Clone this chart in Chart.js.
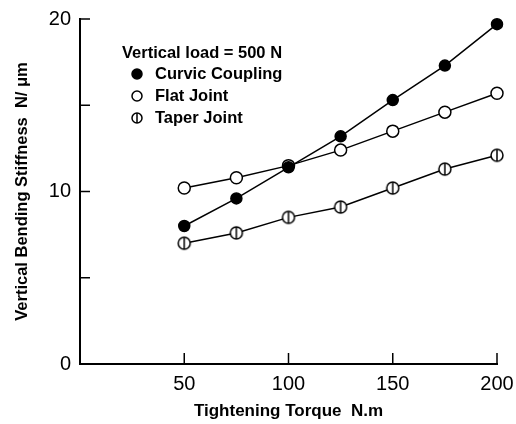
<!DOCTYPE html>
<html>
<head>
<meta charset="utf-8">
<script src="https://cdn.jsdelivr.net/npm/chart.js@4/dist/chart.umd.min.js"></script>
<style>
  html, body { margin: 0; padding: 0; background: #fff; }
  #box { width: 516px; height: 424px; }
</style>
</head>
<body>
<div id="box"><canvas id="grafico"></canvas></div>
<script>
const torque = [50, 75, 100, 125, 150, 175, 200];
const curvic = [8.0, 9.6, 11.4, 13.2, 15.3, 17.3, 19.7];
const flat = [10.2, 10.8, 11.5, 12.4, 13.5, 14.6, 15.7];
const taper = [7.0, 7.6, 8.5, 9.1, 10.2, 11.3, 12.1];
const seriesNames = ["Curvic Coupling", "Flat Joint", "Taper Joint"];
const legendTitle = "Vertical load = 500 N";
const xTicks = [50, 100, 150, 200];
const yTicks = [0, 5, 10, 15, 20];
const yLabels = [0, 10, 20];

const fonte = "'Liberation Sans', Arial, sans-serif";

function pontos(valores) {
  let lista = [];
  for (let i = 0; i < torque.length; i++) {
    lista.push({ x: torque[i], y: valores[i] });
  }
  return lista;
}

// marcador do taper: circulo aberto com traco vertical
function marcadorTaper(r) {
  let c = document.createElement("canvas");
  c.width = r * 2 + 4;
  c.height = r * 2 + 4;
  let g = c.getContext("2d");
  let m = r + 2;
  g.fillStyle = "#fff";
  g.strokeStyle = "#000";
  g.lineWidth = 1.5;
  g.beginPath();
  g.arc(m, m, r, 0, Math.PI * 2);
  g.fill();
  g.stroke();
  g.beginPath();
  g.moveTo(m, m - r);
  g.lineTo(m, m + r);
  g.stroke();
  return c;
}

const taperPonto = marcadorTaper(6);
const taperLegenda = marcadorTaper(5);

const ticksInternos = {
  id: "ticksInternos",
  afterDraw(chart) {
    let ctx = chart.ctx;
    let x = chart.scales.x;
    let y = chart.scales.y;
    ctx.save();
    ctx.strokeStyle = "#000";
    ctx.lineWidth = 1.5;
    for (let v of xTicks) {
      let px = x.getPixelForValue(v);
      ctx.beginPath();
      ctx.moveTo(px, y.bottom);
      ctx.lineTo(px, y.bottom - 11);
      ctx.stroke();
    }
    for (let v of yTicks) {
      if (v === 0) continue;
      let py = y.getPixelForValue(v);
      ctx.beginPath();
      ctx.moveTo(x.left, py);
      ctx.lineTo(x.left + 10, py);
      ctx.stroke();
    }
    ctx.restore();
  },
};

const legendaInterna = {
  id: "legendaInterna",
  afterDraw(chart) {
    let ctx = chart.ctx;
    ctx.save();
    ctx.fillStyle = "#000";
    ctx.font = "bold 16.5px " + fonte;
    ctx.textBaseline = "middle";
    ctx.textAlign = "left";
    ctx.fillText(legendTitle, 122, 53);
    let linhas = [74, 96, 118];
    chart.data.datasets.forEach(function (ds, i) {
      let cy = linhas[i];
      let cx = 137;
      if (ds.pointStyle === taperPonto) {
        ctx.drawImage(taperLegenda, cx - 7, cy - 7);
      } else {
        ctx.beginPath();
        ctx.arc(cx, cy, 5, 0, Math.PI * 2);
        ctx.fillStyle = ds.pointBackgroundColor;
        ctx.fill();
        ctx.strokeStyle = "#000";
        ctx.lineWidth = 1.5;
        ctx.stroke();
      }
      ctx.fillStyle = "#000";
      ctx.fillText(ds.label, 155, cy);
    });
    ctx.restore();
  },
};

new Chart(document.getElementById("grafico"), {
  type: "scatter",
  data: {
    datasets: [
      {
        label: seriesNames[0],
        data: pontos(curvic),
        showLine: true,
        clip: false,
        borderColor: "#000",
        borderWidth: 1.5,
        pointStyle: "circle",
        pointRadius: 5.5,
        pointBackgroundColor: "#000",
        pointBorderColor: "#000",
      },
      {
        label: seriesNames[1],
        data: pontos(flat),
        showLine: true,
        clip: false,
        borderColor: "#000",
        borderWidth: 1.5,
        pointStyle: "circle",
        pointRadius: 6,
        pointBorderWidth: 1.5,
        pointBackgroundColor: "#fff",
        pointBorderColor: "#000",
      },
      {
        label: seriesNames[2],
        data: pontos(taper),
        showLine: true,
        clip: false,
        borderColor: "#000",
        borderWidth: 1.5,
        pointStyle: taperPonto,
        pointBackgroundColor: "#fff",
      },
    ],
  },
  plugins: [ticksInternos, legendaInterna],
  options: {
    responsive: true,
    maintainAspectRatio: false,
    animation: false,
    layout: {
      padding: { top: 19, right: 19, left: 0, bottom: 0 },
    },
    plugins: {
      legend: { display: false },
      tooltip: { enabled: false },
    },
    scales: {
      x: {
        type: "linear",
        min: 0,
        max: 200,
        afterBuildTicks: function (axis) {
          axis.ticks = xTicks.map(function (v) { return { value: v }; });
        },
        afterFit: function (axis) {
          axis.height = 60;
          axis.paddingLeft = 0;
          axis.paddingRight = 0;
        },
        grid: { display: true, drawOnChartArea: false, drawTicks: false },
        border: { display: true, color: "#000", width: 2 },
        ticks: {
          color: "#000",
          padding: 8,
          maxRotation: 0,
          font: { family: fonte, size: 20 },
        },
        title: {
          display: true,
          text: "Tightening Torque  N.m",
          color: "#000",
          padding: { top: 0, bottom: 2 },
          font: { family: fonte, size: 17, weight: "bold" },
        },
      },
      y: {
        min: 0,
        max: 20,
        afterBuildTicks: function (axis) {
          axis.ticks = yTicks.map(function (v) { return { value: v }; });
        },
        afterFit: function (axis) {
          axis.width = 80;
          axis.paddingTop = 0;
          axis.paddingBottom = 0;
        },
        grid: { display: true, drawOnChartArea: false, drawTicks: false },
        border: { display: true, color: "#000", width: 2 },
        ticks: {
          color: "#000",
          padding: 9,
          font: { family: fonte, size: 20 },
          callback: function (v) {
            return yLabels.includes(v) ? String(v) : "";
          },
        },
        title: {
          display: true,
          text: "Vertical Bending Stiffness  N/ \u03bcm",
          color: "#000",
          padding: { top: 13, bottom: 0 },
          font: { family: fonte, size: 16.5, weight: "bold" },
        },
      },
    },
  },
});
</script>
</body>
</html>
